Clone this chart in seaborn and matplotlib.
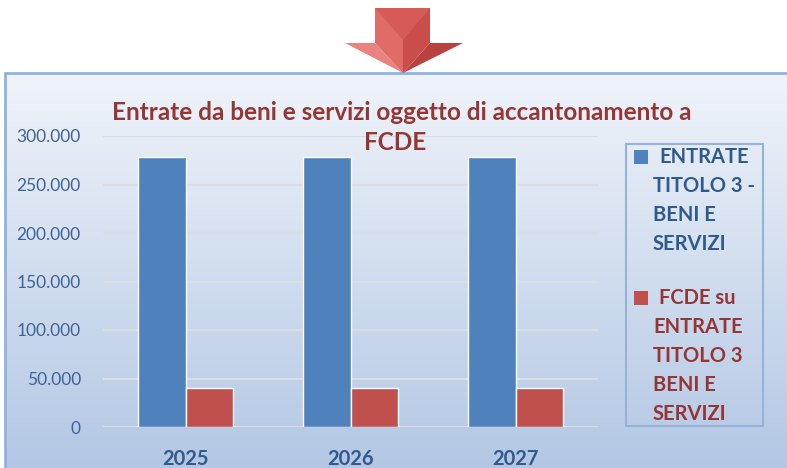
import numpy as np
import pandas as pd
import matplotlib
matplotlib.use("Agg")
import matplotlib.pyplot as plt
import seaborn as sns
from matplotlib.patches import Polygon, Rectangle

years = ["2025", "2026", "2027"]
entrate = [278000, 278000, 278000]
fcde = [40000, 40000, 40000]
series_names = ["ENTRATE TITOLO 3 - BENI E SERVIZI",
                "FCDE su ENTRATE TITOLO 3 BENI E SERVIZI"]
legend_lines = [["ENTRATE", "TITOLO 3 -", "BENI E", "SERVIZI"],
                ["FCDE su", "ENTRATE", "TITOLO 3", "BENI E", "SERVIZI"]]
yticks = [0, 50000, 100000, 150000, 200000, 250000, 300000]

df = pd.DataFrame({
    "anno": years * 2,
    "valore": entrate + fcde,
    "serie": [series_names[0]] * 3 + [series_names[1]] * 3,
})

sns.set_theme(style="white")
plt.rcParams["font.family"] = ["Lato", "DejaVu Sans"]

blue = "#4f81bd"
red = "#c0504d"
dark_blue = "#2f5a8e"
dark_red = "#943634"

fig = plt.figure(figsize=(7.87, 4.68), dpi=100)
fig.patch.set_facecolor("white")


def fpt(x, y):
    return (x / 787, 1 - y / 468)


# gradient background of the chart box
bg = fig.add_axes([5 / 787, 0, 1 - 5 / 787, 1 - 73 / 468], zorder=0)
top_c = np.array([0xf0, 0xf4, 0xfa]) / 255
bot_c = np.array([0xb3, 0xc7, 0xe4]) / 255
t = np.linspace(0, 1, 256)[:, None]
grad = top_c * (1 - t) + bot_c * t
bg.imshow(grad[:, None, :].repeat(2, axis=1), aspect="auto", extent=[0, 1, 0, 1])
bg.set_axis_off()
fig.patches.append(Rectangle((5 / 787, -0.01), 1, 1 - 73 / 468 + 0.01,
                             transform=fig.transFigure, fill=False,
                             edgecolor="#8db3e2", linewidth=2, zorder=1))

# arrow on top
arrow_parts = [
    ([(345, 43), (375, 43), (403, 73)], "#e8837f"),
    ([(430, 43), (463, 43), (403, 73)], "#b8423f"),
    ([(375, 8), (403, 8), (403, 73), (375, 43)], "#e06b67"),
    ([(403, 8), (430, 8), (430, 43), (403, 73)], "#c94e4a"),
    ([(375, 8), (430, 8), (403, 40)], "#d65a56"),
]
for pts, col in arrow_parts:
    fig.patches.append(Polygon([fpt(*p) for p in pts], closed=True,
                               transform=fig.transFigure, facecolor=col,
                               edgecolor="none", zorder=3))

ax = fig.add_axes([103 / 787, 1 - 427 / 468, 495 / 787, 291 / 468], zorder=2)
ax.patch.set_alpha(0)
sns.barplot(data=df, x="anno", y="valore", hue="serie",
            palette=[blue, red], width=0.57, saturation=1, ax=ax,
            legend=False, zorder=3)
ax.set_ylim(0, 300000)
ax.set_yticks(yticks)
ax.set_yticklabels([f"{v:,}".replace(",", ".") for v in yticks])
ax.grid(axis="y", color="#dadee4", linewidth=1.5, zorder=1)
ax.set_axisbelow(True)
for s in ax.spines.values():
    s.set_visible(False)
ax.set_xlabel("")
ax.set_ylabel("")
ax.tick_params(axis="y", length=0, pad=16, labelsize=12.5, labelcolor="#3e6496")
ax.tick_params(axis="x", length=0, pad=16, labelsize=14.5)
for lab in ax.get_xticklabels():
    lab.set_fontweight("bold")
    lab.set_color(dark_blue)

fig.text(*fpt(402, 112), "Entrate da beni e servizi oggetto di accantonamento a",
         ha="center", va="center", fontsize=17.5, fontweight="bold", color=dark_red, zorder=5)
fig.text(*fpt(395, 143), "FCDE",
         ha="center", va="center", fontsize=17.5, fontweight="bold", color=dark_red, zorder=5)

# legend box drawn by hand to keep Excel-like wrapping
fig.patches.append(Rectangle(fpt(626, 426), 137 / 787, 282 / 468,
                             transform=fig.transFigure, fill=False,
                             edgecolor="#95b3d7", linewidth=1.5, zorder=4))
starts = [157, 298]
for i, (lines, sq, tc) in enumerate(zip(legend_lines, [blue, red], [dark_blue, dark_red])):
    y0 = starts[i]
    fig.patches.append(Rectangle(fpt(634, y0 + 7), 14 / 787, 14 / 468,
                                 transform=fig.transFigure, facecolor=sq,
                                 edgecolor="none", zorder=5))
    for j, line in enumerate(lines):
        x = 659 if j == 0 else 653
        fig.text(*fpt(x, y0 + j * 29), line, ha="left", va="center",
                 fontsize=14.5, fontweight="bold", color=tc, zorder=5)

fig.savefig("out.png", dpi=100)
